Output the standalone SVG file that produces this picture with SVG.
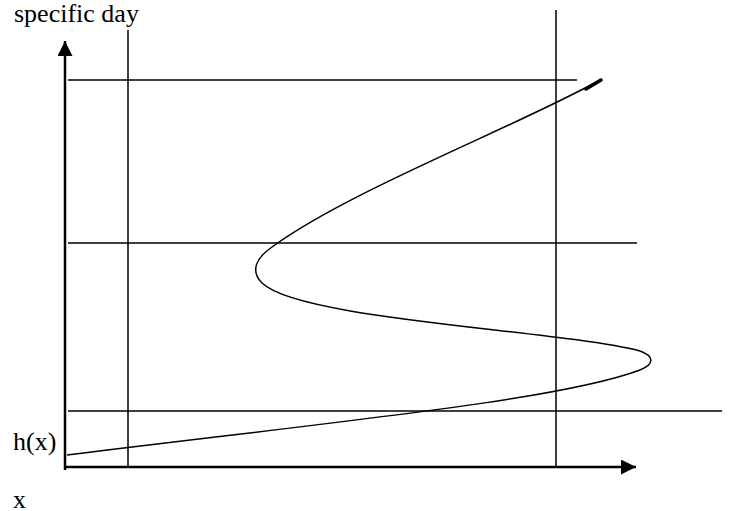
<svg xmlns="http://www.w3.org/2000/svg" width="729" height="511" viewBox="0 0 729 511">
<style>
text{font-family:"Liberation Serif",serif;font-size:26px;fill:#000}
.ln{stroke:#000;stroke-width:1.5;fill:none}
.ax{stroke:#000;stroke-width:2.5;fill:none}
</style>
<defs>
<marker id="ah" viewBox="0 0 10 10" refX="10" refY="5" markerWidth="6" markerHeight="6" orient="auto" markerUnits="strokeWidth"><path d="M0,0 L10,5 L0,10 z" fill="#000"/></marker>
</defs>
<rect width="729" height="511" fill="#fff"/>
<g id="labels">
<text x="14" y="22">specific day</text>
<text x="13" y="450">h(x)</text>
<text x="13" y="508">x</text>
</g>
<g id="grid">
<line class="ln" x1="128" y1="30" x2="128" y2="467"/>
<line class="ln" x1="556" y1="10" x2="556" y2="467"/>
<line class="ln" x1="68" y1="80" x2="577" y2="80"/>
<line class="ln" x1="68" y1="243" x2="637" y2="243"/>
<line class="ln" x1="68" y1="411" x2="722" y2="411"/>
</g>
<g id="axes">
<line class="ax" x1="65" y1="470" x2="65" y2="41" marker-end="url(#ah)"/>
<line class="ax" x1="64" y1="467" x2="636" y2="467" marker-end="url(#ah)"/>
</g>
<g id="curve">
<path class="ln" d="M67,455 C 350,420 560,400 640,370 C 655,364 654,356 640,351 C 560,330 300,320 262,283 C 250,271 256,258 272,247 C 350,190 520,125 600,80"/>
<line x1="586" y1="89" x2="601" y2="80" stroke="#000" stroke-width="3.5" stroke-linecap="round"/>
</g>
</svg>
